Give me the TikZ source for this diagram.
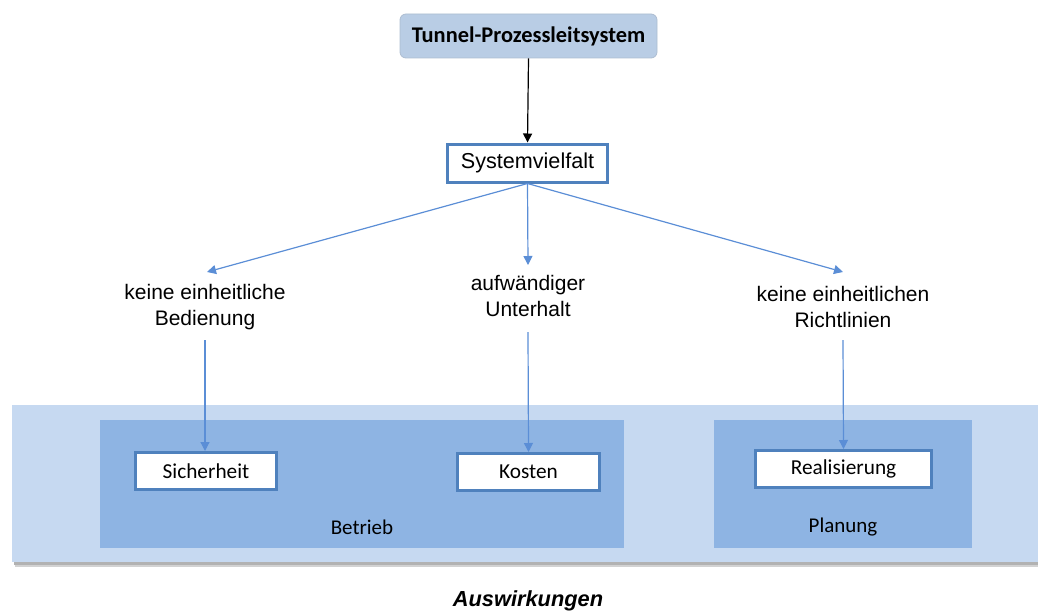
\documentclass[tikz,border=0pt]{standalone}
\usepackage{fontspec}
\setmainfont{Liberation Sans}
\newfontfamily\calib{Carlito}
\usetikzlibrary{arrows.meta}
\definecolor{band}{HTML}{C6D9F1}
\definecolor{inner}{HTML}{8EB4E3}
\definecolor{topfill}{HTML}{B9CDE5}
\definecolor{frame}{HTML}{4F81BD}
\definecolor{arr}{HTML}{5B8ED6}
\tikzset{
  topbox/.style={draw=topfill!80!gray, fill=topfill, rounded corners=6pt, line width=0.8pt, minimum width=257pt, minimum height=44pt, font=\calib\bfseries\fontsize{22.4}{26}\selectfont},
  midbox/.style={draw=frame, fill=white, line width=3pt, minimum width=160pt, minimum height=38pt, font=\fontsize{21.6}{24}\selectfont},
  effbox/.style={draw=frame, fill=white, line width=3pt, minimum height=37pt, font=\calib\fontsize{21.3}{24}\selectfont},
  lbl/.style={align=center, font=\fontsize{21}{26}\selectfont, inner sep=0pt},
  grp/.style={font=\calib\fontsize{21}{24}\selectfont, inner sep=0pt},
  bluearr/.style={draw=arr, line width=1.2pt, -{Triangle[length=9pt,width=9pt]}},
  blackarr/.style={draw=black, line width=1.2pt, -{Triangle[length=9pt,width=9pt]}}
}
\begin{document}
\begin{tikzpicture}[x=1pt,y=-1pt]
\useasboundingbox (0,0) rectangle (1038,610);
% band with shadow
\fill[gray!35] (15,410) rectangle (1038,567);
\fill[gray!60] (14,408) rectangle (1038,565);
\fill[band] (12,405) rectangle (1038,562);
\fill[inner] (100,420) rectangle (624,548);
\fill[inner] (714,420) rectangle (972,548);
\node[grp] (betrieb) at (362,527) {Betrieb};
\node[grp] (planung) at (843,527) {Planung};

\node[topbox] (top) at (528.5,36) {Tunnel-Prozessleitsystem};
\node[midbox] (sys) at (527.5,163) {Systemvielfalt};

\node[lbl] (l1) at (205,307) {keine einheitliche\\Bedienung};
\node[lbl] (l2) at (528,296) {aufwändiger\\Unterhalt};
\node[lbl] (l3) at (843,307) {keine einheitlichen\\Richtlinien};

\coordinate (a1) at (207,272);
\coordinate (a2) at (528,265);
\coordinate (a3) at (843,272);

\node[effbox, minimum width=141pt] (sich) at (206,471) {Sicherheit};
\node[effbox, minimum width=142pt] (kost) at (528.5,472) {Kosten};
\node[effbox, minimum width=176pt] (real) at (843.5,469) {Realisierung};

\node[font=\bfseries\itshape\fontsize{21.8}{24}\selectfont, inner sep=0pt] (ausw) at (528,601) {Auswirkungen};

\draw[blackarr] (top.south) -- (sys.north);
\draw[bluearr] (sys.south) -- (a1);
\draw[bluearr] (sys.south) -- (a2);
\draw[bluearr] (sys.south) -- (a3);
\draw[bluearr] (205,340) -- (sich.north -| 205,0);
\draw[bluearr] (528,332) -- (kost.north);
\draw[bluearr] (843,340) -- (real.north);
\end{tikzpicture}
\end{document}
